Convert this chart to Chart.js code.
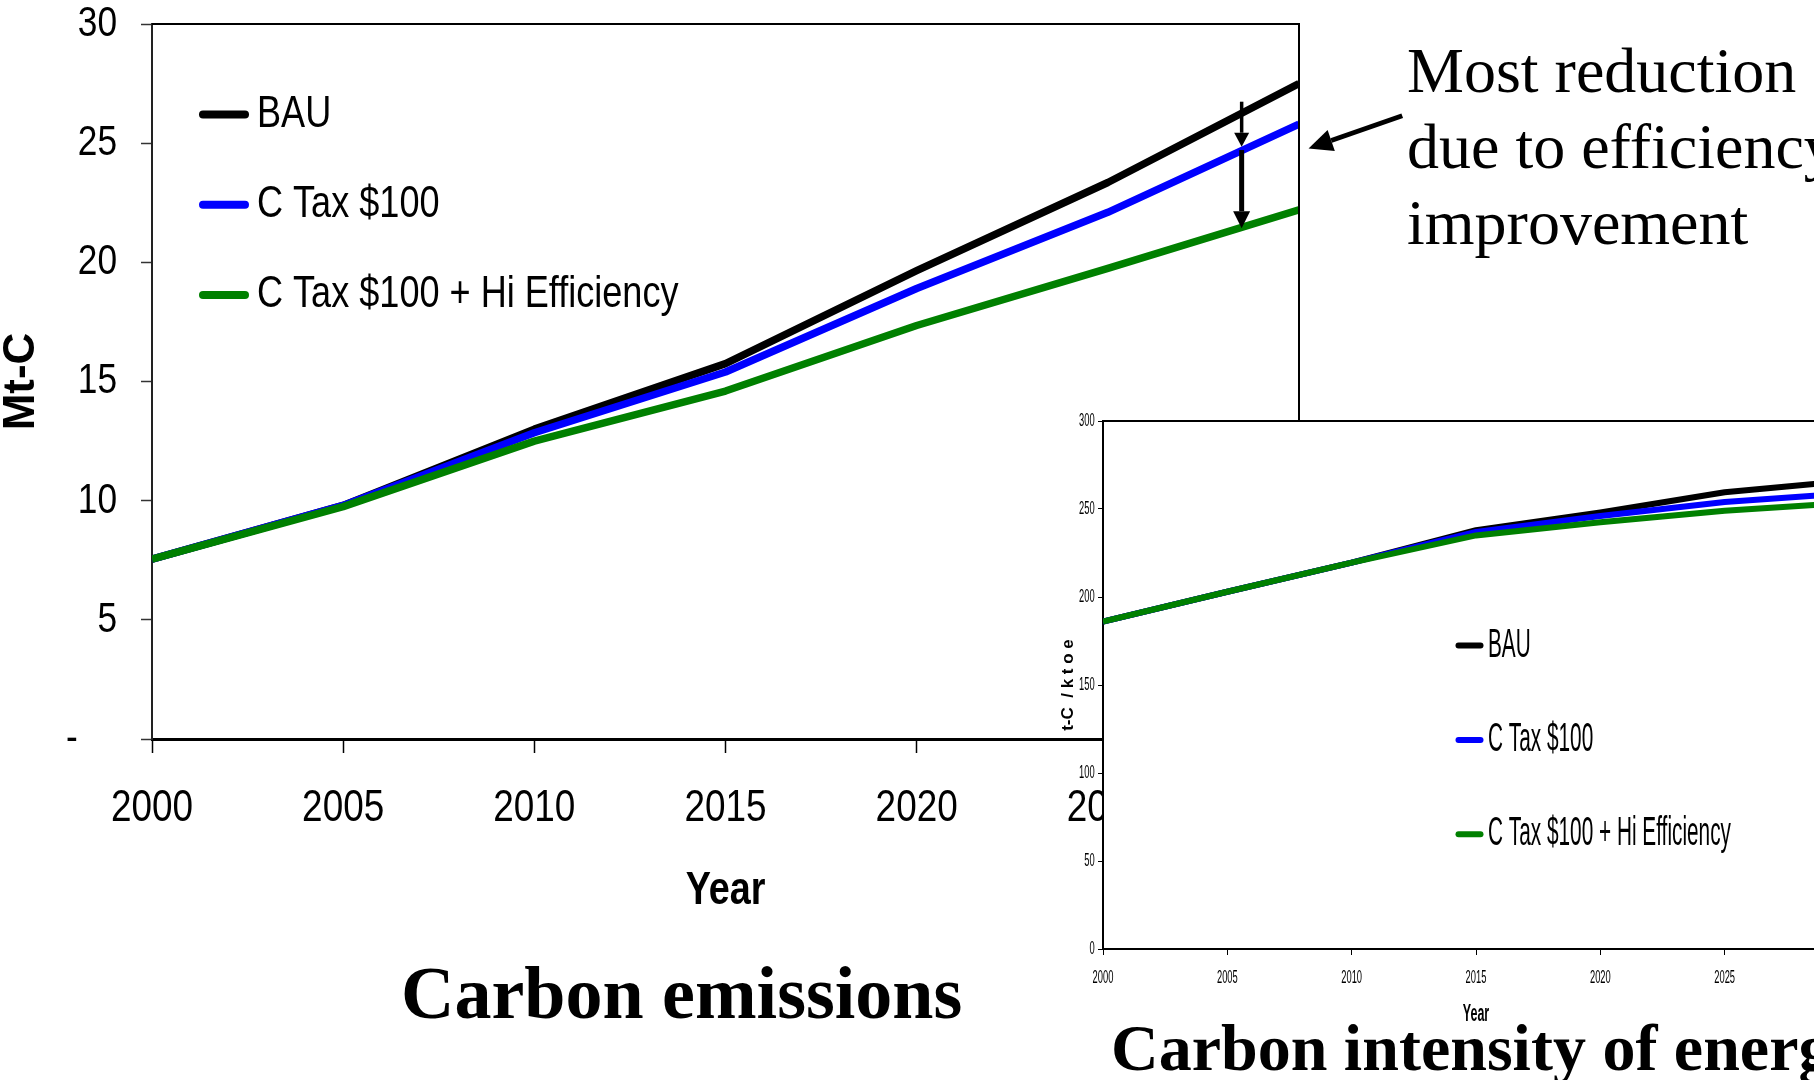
<!DOCTYPE html>
<html>
<head>
<meta charset="utf-8">
<title>Carbon emissions and carbon intensity of energy</title>
<script src="https://cdn.jsdelivr.net/npm/chart.js@4.4.1/dist/chart.umd.min.js"></script>
<style>
  html, body { margin: 0; padding: 0; width: 1814px; height: 1080px; overflow: hidden; background: #fff; }
  canvas { position: absolute; }
  #emissions { left: 0; top: 0; }
  #intensity { left: 1030px; top: 400px; }
  .note { position: absolute; font-family: 'Times New Roman', 'Liberation Serif', serif; color: #000; white-space: nowrap; }
  #reduction { left: 1407px; top: 33px; font-size: 64px; line-height: 76px; }
  #capEmissions { left: 401px; top: 956px; font-size: 74px; line-height: 74px; font-weight: bold; }
  #capIntensity { left: 1111px; top: 1015px; font-size: 66px; line-height: 66px; font-weight: bold; }
</style>
</head>
<body>
<canvas id="emissions" width="1440" height="930"></canvas>
<canvas id="intensity" width="850" height="640"></canvas>
<div class="note" id="reduction">Most reduction<br>due to efficiency<br>improvement</div>
<div class="note" id="capEmissions">Carbon emissions</div>
<div class="note" id="capIntensity">Carbon intensity of energy</div>
<script>
const years = [2000, 2005, 2010, 2015, 2020, 2025, 2030];
const seriesNames = ['BAU', 'C Tax $100', 'C Tax $100 + Hi Efficiency'];
const seriesColors = ['#000000', '#0000ff', '#008000'];

// carbon emissions, Mt-C
const emissionsBAU = [7.55, 9.8, 13.0, 15.75, 19.65, 23.35, 27.5];
const emissionsTax = [7.55, 9.8, 12.85, 15.4, 18.9, 22.1, 25.8];
const emissionsEff = [7.55, 9.75, 12.5, 14.6, 17.35, 19.75, 22.2];

// carbon intensity, t-C / ktoe
const intensityBAU = [186, 203, 219.5, 238, 248, 259.5, 266];
const intensityTax = [186, 203, 219.5, 237, 246, 254, 259];
const intensityEff = [186, 203, 219.5, 235, 242.5, 249, 253.5];

const SANS = "Arial, 'Liberation Sans', sans-serif";

// the slide squeezed both charts sideways, so horizontal text is drawn narrow
const squash = {
    id: 'squash',
    beforeInit(chart) {
        const ctx = chart.ctx;
        const fill = ctx.fillText;
        ctx.textScale = 1;
        ctx.fillText = function (text, x, y, maxWidth) {
            if (this.textScale === 1) return fill.call(this, text, x, y, maxWidth);
            this.save();
            this.translate(x, y);
            this.scale(this.textScale, 1);
            fill.call(this, text, 0, 0, maxWidth);
            this.restore();
        };
    },
    beforeDraw(chart, args, opts) {
        chart.ctx.textScale = opts.scale;
        const y = chart.scales.y;
        if (!y.keepTitle) {
            const drawTitle = y.drawTitle;
            y.drawTitle = function () {
                chart.ctx.textScale = 1;
                drawTitle.call(this);
                chart.ctx.textScale = opts.scale;
            };
            y.keepTitle = true;
        }
    }
};

const frame = {
    id: 'frame',
    beforeDraw(chart, args, o) {
        const { ctx, chartArea: a } = chart;
        if (o.fill) {
            ctx.save();
            ctx.fillStyle = o.fill;
            ctx.fillRect(a.left, a.top, a.right - a.left, a.bottom - a.top);
            ctx.restore();
        }
    },
    afterDatasetsDraw(chart, args, o) {
        const { ctx, chartArea: a } = chart;
        ctx.save();
        ctx.strokeStyle = '#000';
        ctx.lineWidth = o.width;
        ctx.beginPath();
        ctx.moveTo(a.left, a.top);
        ctx.lineTo(a.right, a.top);
        ctx.lineTo(a.right, a.bottom);
        ctx.stroke();
        ctx.restore();
    }
};

const legendLines = {
    id: 'legendLines',
    afterDatasetsDraw(chart, args, o) {
        const ctx = chart.ctx;
        ctx.save();
        chart.data.datasets.forEach((ds, i) => {
            const y = o.y + i * o.step;
            ctx.strokeStyle = ds.borderColor;
            ctx.lineWidth = o.lineWidth;
            ctx.lineCap = 'round';
            ctx.beginPath();
            ctx.moveTo(o.x, y);
            ctx.lineTo(o.x + o.length, y);
            ctx.stroke();
            ctx.fillStyle = '#000';
            ctx.font = o.font;
            ctx.textAlign = 'left';
            ctx.textBaseline = 'middle';
            ctx.fillText(ds.label, o.textX, y);
        });
        ctx.restore();
    }
};

function drawArrow(ctx, x1, y1, x2, y2, w, len, head) {
    const a = Math.atan2(y2 - y1, x2 - x1);
    const bx = x2 - len * Math.cos(a), by = y2 - len * Math.sin(a);
    ctx.lineWidth = w;
    ctx.beginPath();
    ctx.moveTo(x1, y1);
    ctx.lineTo(bx, by);
    ctx.stroke();
    ctx.beginPath();
    ctx.moveTo(x2, y2);
    ctx.lineTo(bx + head / 2 * Math.sin(a), by - head / 2 * Math.cos(a));
    ctx.lineTo(bx - head / 2 * Math.sin(a), by + head / 2 * Math.cos(a));
    ctx.closePath();
    ctx.fill();
}

const arrows = {
    id: 'arrows',
    afterDraw(chart, args, o) {
        const { ctx, scales: { x, y } } = chart;
        ctx.save();
        ctx.strokeStyle = '#000';
        ctx.fillStyle = '#000';
        o.items.forEach(it => {
            drawArrow(ctx, x.getPixelForValue(it.from[0]), y.getPixelForValue(it.from[1]),
                x.getPixelForValue(it.to[0]), y.getPixelForValue(it.to[1]), it.width, it.len, it.head);
        });
        ctx.restore();
    }
};

function series(values, i) {
    return {
        label: seriesNames[i],
        data: years.map((yr, k) => ({ x: yr, y: values[k] })),
        borderColor: seriesColors[i],
        backgroundColor: seriesColors[i],
        order: 2 - i
    };
}

// keep the plot box where it is: no extra room for overhanging tick labels
function fixSize(prop, size) {
    return s => {
        s[prop] = size;
        s.paddingTop = s.paddingBottom = s.paddingLeft = s.paddingRight = 0;
    };
}

// --- Carbon emissions ---
new Chart(document.getElementById('emissions').getContext('2d'), {
    type: 'line',
    data: { datasets: [series(emissionsBAU, 0), series(emissionsTax, 1), series(emissionsEff, 2)] },
    options: {
        responsive: false,
        animation: false,
        layout: { padding: { left: 0, top: 24, right: 141, bottom: 0 } },
        elements: {
            point: { radius: 0 },
            line: { borderWidth: 7.5, tension: 0, borderJoinStyle: 'round' }
        },
        plugins: {
            legend: { display: false },
            tooltip: { enabled: false },
            squash: { scale: 0.82 },
            frame: { width: 2 },
            legendLines: { x: 203, y: 114.5, step: 90.3, length: 42, lineWidth: 8, textX: 257, font: '44px ' + SANS },
            arrows: {
                items: [
                    { from: [2028.5, 26.74], to: [2028.5, 24.85], width: 3.5, len: 14, head: 15 },
                    { from: [2028.5, 24.71], to: [2028.5, 21.43], width: 5, len: 17, head: 17 },
                    { from: [2032.7, 26.15], to: [2030.25, 24.78], width: 5, len: 24, head: 22 }
                ]
            }
        },
        scales: {
            x: {
                type: 'linear', min: 2000, max: 2030,
                afterFit: fixSize('height', 930 - 739),
                ticks: { stepSize: 5, autoSkip: false, maxRotation: 0, padding: 33, color: '#000',
                    font: { family: SANS, size: 45, lineHeight: 1 }, callback: v => String(v) },
                grid: { drawOnChartArea: false, tickLength: 14, tickColor: '#000', tickWidth: 1.5 },
                border: { color: '#000', width: 3 },
                title: { display: true, text: 'Year', color: '#000', padding: { top: 0, bottom: 16 },
                    font: { family: SANS, size: 46, weight: 'bold', lineHeight: 1 } }
            },
            y: {
                min: 0, max: 30,
                afterFit: fixSize('width', 152),
                ticks: { stepSize: 5, padding: 24, color: '#000',
                    font: { family: SANS, size: 43, lineHeight: 1 },
                    callback: v => v === 0 ? '-    ' : String(v) },
                grid: { drawOnChartArea: false, tickLength: 11, tickColor: '#333', tickWidth: 1.5 },
                border: { color: '#222', width: 2 },
                title: { display: true, text: 'Mt-C', color: '#000', padding: { top: 0, bottom: 0 },
                    font: { family: SANS, size: 44, weight: 'bold', lineHeight: 1 } }
            }
        }
    },
    plugins: [squash, frame, legendLines, arrows]
});

// --- Carbon intensity of energy (inset) ---
new Chart(document.getElementById('intensity').getContext('2d'), {
    type: 'line',
    data: { datasets: [series(intensityBAU, 0), series(intensityTax, 1), series(intensityEff, 2)] },
    options: {
        responsive: false,
        animation: false,
        layout: { padding: { left: 0, top: 21, right: 31, bottom: 0 } },
        elements: {
            point: { radius: 0 },
            line: { borderWidth: 6, tension: 0, borderJoinStyle: 'round' }
        },
        plugins: {
            legend: { display: false },
            tooltip: { enabled: false },
            squash: { scale: 0.52 },
            frame: { width: 2, fill: '#ffffff' },
            legendLines: { x: 428.5, y: 245.6, step: 94.3, length: 22, lineWidth: 6, textX: 458, font: '40px ' + SANS }
        },
        scales: {
            x: {
                type: 'linear', min: 2000, max: 2030,
                afterFit: fixSize('height', 640 - 549),
                ticks: { stepSize: 5, autoSkip: false, maxRotation: 0, padding: 14, color: '#000',
                    font: { family: SANS, size: 18, lineHeight: 1 }, callback: v => String(v) },
                grid: { drawOnChartArea: false, tickLength: 6, tickColor: '#000', tickWidth: 1 },
                border: { color: '#000', width: 2 },
                title: { display: true, text: 'Year', color: '#000', padding: { top: 0, bottom: 14 },
                    font: { family: SANS, size: 24, weight: 'bold', lineHeight: 1 } }
            },
            y: {
                min: 0, max: 300,
                afterFit: fixSize('width', 73),
                ticks: { stepSize: 50, padding: 3.4, color: '#000',
                    font: { family: SANS, size: 18, lineHeight: 1 }, callback: v => String(v) },
                grid: { drawOnChartArea: false, tickLength: 5, tickColor: '#000', tickWidth: 1 },
                border: { color: '#000', width: 2 },
                title: { display: true, text: 't-C  / k t o e', color: '#000', padding: { top: 29.5, bottom: 0 },
                    font: { family: SANS, size: 17, weight: 'bold', lineHeight: 1 } }
            }
        }
    },
    plugins: [squash, frame, legendLines]
});
</script>
</body>
</html>
